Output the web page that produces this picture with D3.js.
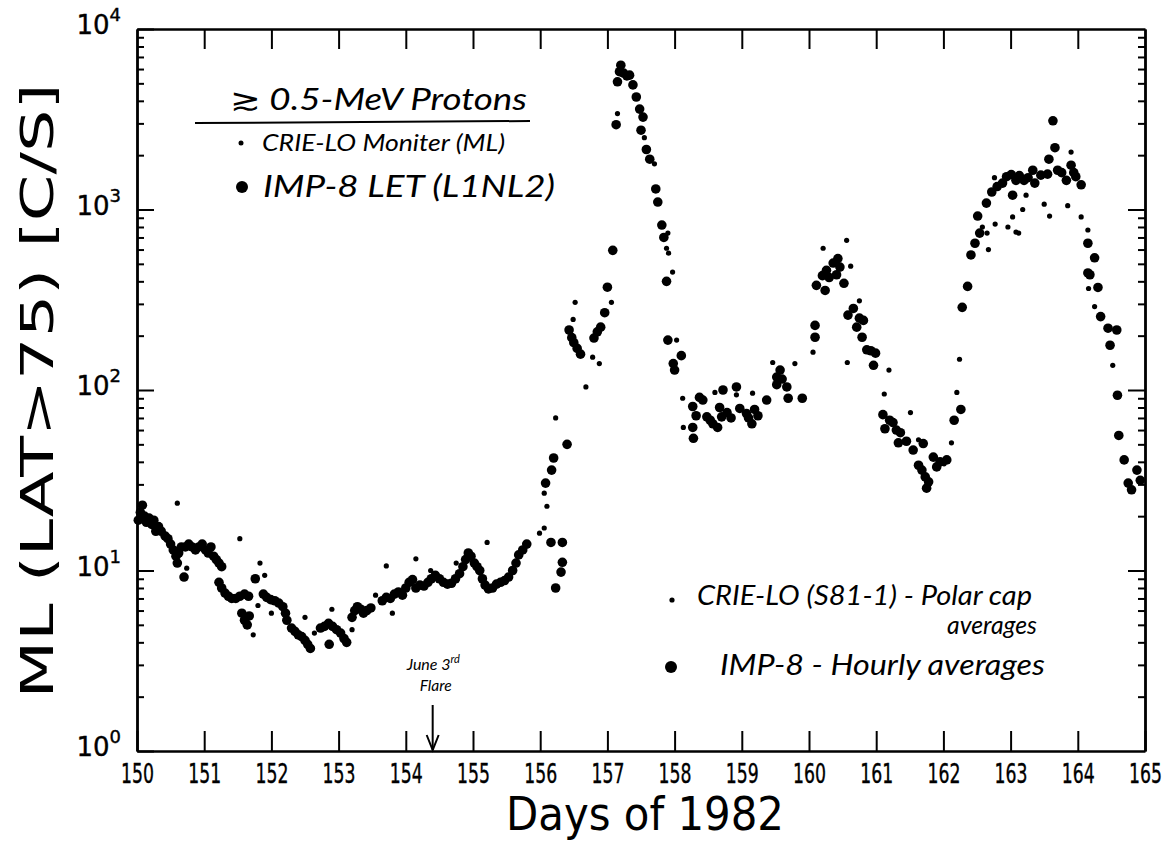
<!DOCTYPE html>
<html>
<head>
<meta charset="utf-8">
<script src="https://cdn.jsdelivr.net/npm/d3@7"></script>
<style>
  body { margin: 0; background: #fff; }
</style>
</head>
<body>
<div id="chart"></div>
<script>
var w = 1172;
var h = 841;

// axis ranges and ticks
var dayDomain = [150, 165];
var rateDomain = [1, 10000];
var dayTicks = d3.range(150, 166);
var decadeTicks = [1, 10, 100, 1000, 10000];
var flareDay = 154.4;

// IMP-8 LET hourly averages (big dots): [day of 1982, counts/s]
var imp8 = [
  [150.02,19],[150.05,21],[150.08,23],[150.11,20],[150.14,18.5],[150.18,19.5],[150.22,18],[150.25,19],[150.28,16.5],[150.32,17.5],[150.36,16.5],
  [150.42,15.5],[150.46,15],[150.5,14],[150.54,13],[150.58,12],[150.6,11],[150.62,12.5],[150.66,13.5],[150.7,9.2],[150.72,13.5],[150.77,14],
  [150.82,13.5],[150.87,13],[150.92,13.5],[150.97,14],[151.02,13],[151.06,12.5],[151.1,13.5],[151.14,12],[151.18,11.5],[151.22,11],[151.26,10.5],
  [151.22,8.6],[151.26,8],[151.31,7.5],[151.36,7.2],[151.41,7],[151.47,7],[151.53,7.2],[151.6,7.4],[151.66,7.2],
  [151.56,5.8],[151.6,5.3],[151.64,5],[151.67,5.6],[151.76,9],
  [151.88,7.4],[151.93,7.1],[151.99,6.9],[152.05,6.8],[152.11,6.6],[152.17,6.3],[152.21,5.8],[152.23,5.3],
  [152.3,4.8],[152.35,4.6],[152.4,4.4],[152.45,4.3],[152.5,4.1],[152.54,3.9],[152.58,3.7],
  [152.73,4.8],[152.79,4.9],[152.85,5.1],[152.86,3.9],[152.91,4.9],[152.97,4.7],[153.03,4.5],[153.08,4.2],[153.12,4],
  [153.2,5.5],[153.24,6],[153.28,6.3],[153.33,6.1],[153.37,5.8],[153.42,6],[153.48,6.2],
  [153.65,6.8],[153.71,7.1],[153.77,7],[153.83,7.4],[153.89,7.6],[153.95,7.3],[154.0,8],[154.05,8.6],[154.1,8.9],[154.15,8],
  [154.21,8.3],[154.27,8.2],[154.33,8.6],[154.38,9],
  [154.44,9.4],[154.5,9],[154.56,8.6],[154.62,8.4],[154.68,8.5],[154.74,9],[154.8,9.6],[154.85,10.5],[154.89,11.5],[154.93,12.5],
  [154.97,12],[155.02,11],[155.06,10.5],[155.1,10],[155.14,9],[155.18,8.3],[155.23,7.9],[155.29,8],[155.35,8.4],[155.41,8.6],
  [155.47,8.8],[155.53,9.2],[155.59,10],[155.64,11],[155.68,12.2],[155.74,13],[155.8,14],
  [156.16,14.3],[156.33,14.3],[156.33,11.1],[156.31,9.8],[156.23,8],
  [156.08,30.5],[156.17,36],[156.2,42],[156.4,50],
  [156.43,215],[156.47,195],[156.5,183],[156.55,170],[156.6,158],[156.8,194],[156.85,210],[156.9,223],[156.96,268],[157.0,371],[157.08,594],
  [157.13,2950],[157.15,5100],[157.18,5800],[157.2,6300],[157.24,5700],[157.29,5500],[157.33,5550],[157.38,4900],[157.43,4200],[157.48,3600],
  [157.5,2750],[157.53,3250],[157.58,2150],[157.63,1900],[157.72,1300],[157.75,1100],[157.81,820],[157.84,700],[157.88,400],[157.9,189],
  [157.98,140],[158.0,129],[158.1,155],
  [158.27,81],[158.32,72],[158.37,91],[158.42,88],[158.48,71],[158.53,68],[158.57,65],[158.27,62],[158.28,54],[158.64,62],[158.67,80],
  [158.7,71],[158.72,100],[158.78,75],[158.84,70],[158.92,104],[158.97,79],[159.07,74],[159.1,70],[159.15,65],[159.19,78],[159.24,72],
  [159.37,88],[159.52,118],[159.52,107],[159.57,129],[159.6,115],[159.67,104],[159.69,90],[159.9,90],
  [160.09,196],[160.09,228],[160.11,380],[160.2,430],[160.24,356],[160.26,460],[160.3,420],[160.36,505],[160.41,435],[160.43,535],
  [160.46,480],[160.52,390],
  [160.58,260],[160.66,283],[160.71,223],[160.75,250],[160.79,196],[160.81,243],[160.86,167],[160.92,165],[160.96,137],[160.99,160],
  [161.1,73],[161.13,61],[161.2,68],[161.25,66],[161.3,60],[161.33,51],[161.36,58],[161.45,52],[161.55,46.5],[161.63,38.3],[161.68,36],
  [161.7,50.5],[161.73,33],[161.75,28.6],[161.78,31],[161.85,42.5],[161.9,37.5],[161.95,40],[162.05,41],
  [162.16,68],[162.26,78],[162.28,287],[162.36,375],[162.41,560],[162.47,650],[162.51,920],[162.54,740],[162.64,1085],[162.72,1250],
  [162.8,1340],[162.88,1400],[162.94,1520],[163.01,1560],[163.03,1200],[163.08,1450],[163.13,1540],[163.2,1450],[163.26,1500],
  [163.33,1650],[163.36,1400],[163.45,1550],[163.55,1570],[163.57,1900],[163.63,3100],[163.66,2200],[163.7,1650],[163.76,1600],
  [163.83,1450],[163.9,1760],[163.94,1600],[163.97,1520],[164.05,1370],
  [164.15,650],[164.15,445],[164.18,435],[164.25,540],[164.3,370],[164.34,255],[164.45,220],[164.48,177],[164.58,215],[164.59,93.5],
  [164.61,56],[164.69,41],[164.75,30.5],[164.8,28],[164.88,36],[164.93,31.6]
];

// CRIE-LO (S81-1) polar cap averages (small dots)
var crieLo = [
  [150.6,23.6],[150.74,10.3],[151.53,15],[151.73,4.4],[151.8,6.4],[151.83,11],[151.9,9.4],[152.0,5.8],[152.5,5.5],[152.64,4.5],
  [152.9,6.1],[153.2,4.7],[153.55,7.3],[153.71,10.6],[153.8,5.8],[154.15,11.6],[154.37,10],[154.75,11],[155.21,14.3],[155.99,16.1],
  [156.06,17.2],[156.06,26.8],[156.1,22.7],[156.23,70],[156.49,246],[156.52,306],[156.68,104],[156.78,152],[156.88,140],[157.06,306],
  [157.15,3400],[157.55,2500],[157.7,1790],[157.88,610],[157.9,740],[157.91,573],[157.97,450],[158.03,189],[158.12,90],[158.13,62],
  [158.6,97],[158.92,94],[159.16,96],[159.46,142],[159.79,140],[160.06,162],[160.21,610],[160.56,675],[160.57,142],[160.62,485],
  [160.75,312],[161.12,95],[161.19,129],[161.51,75],[161.63,53],[162.01,39],[162.12,51],[162.2,97],[162.24,148],[162.58,800],
  [162.65,740],[162.67,600],[162.76,1500],[162.77,830],[162.96,800],[163.03,910],[163.08,750],[163.12,740],[163.18,1000],[163.23,1200],
  [163.5,1070],[163.58,920],[163.85,1050],[163.9,2080],[164.05,910],[164.15,770],[164.16,365],[164.25,290],[164.52,137]
];

// plot frame (window.top is reserved, so prefixed names)
var plotLeft = 137, plotRight = 1145, plotTop = 29, plotBottom = 751;
var axisFont = "DejaVu Sans, sans-serif";
var handFont = "Lato, 'DejaVu Sans', sans-serif";

var xScale = d3.scaleLinear().domain(dayDomain).range([plotLeft, plotRight]);
var yScale = d3.scaleLog().domain(rateDomain).range([plotBottom, plotTop]);

// minor log ticks 2..9 of each decade
var minorTicks = [];
decadeTicks.slice(0, -1).forEach(function(d) {
  for (var k = 2; k <= 9; k++) minorTicks.push(d * k);
});

var svg = d3.select("#chart").append("svg")
  .attr("width", w)
  .attr("height", h)
  .style("background", "#fff");

function styleAxis(g) {
  g.select(".domain").attr("stroke-width", 2.4);
  g.selectAll(".tick line").attr("stroke-width", 2);
}

// bottom axis with labels
var xAxis = d3.axisBottom(xScale)
  .tickValues(dayTicks)
  .tickSizeInner(-20)
  .tickSizeOuter(0)
  .tickPadding(14)
  .tickFormat(d3.format("d"));
svg.append("g")
  .attr("transform", "translate(0," + plotBottom + ")")
  .call(xAxis)
  .call(styleAxis)
  .selectAll("text")
  .attr("font-family", axisFont)
  .attr("font-size", "26px")
  .attr("fill", "#000")
  .attr("stroke", "#000")
  .attr("stroke-width", 0.4)
  .attr("textLength", 33)
  .attr("lengthAdjust", "spacingAndGlyphs");

// top axis, ticks only
svg.append("g")
  .attr("transform", "translate(0," + plotTop + ")")
  .call(d3.axisTop(xScale).tickValues(dayTicks.slice(1, -1)).tickSizeInner(-20).tickSizeOuter(0).tickFormat(""))
  .call(styleAxis);

// left axis: decades with 10^n labels
var yAxis = d3.axisLeft(yScale)
  .tickValues(decadeTicks)
  .tickSizeInner(-17)
  .tickSizeOuter(0)
  .tickPadding(16)
  .tickFormat("");
var gy = svg.append("g")
  .attr("transform", "translate(" + plotLeft + ",0)")
  .call(yAxis)
  .call(styleAxis);
gy.selectAll(".tick text")
  .attr("font-family", axisFont)
  .attr("fill", "#000")
  .attr("stroke", "#000")
  .attr("stroke-width", 0.4)
  .attr("dy", "0.45em")
  .each(function(d) {
    var t = d3.select(this);
    t.append("tspan").attr("font-size", "26px").text("10");
    t.append("tspan").attr("font-size", "18px").attr("dy", "-0.7em").text(Math.round(Math.log10(d)));
  });
svg.append("g")
  .attr("transform", "translate(" + plotLeft + ",0)")
  .call(d3.axisLeft(yScale).tickValues(minorTicks).tickSizeInner(-7).tickSizeOuter(0).tickFormat(""))
  .call(styleAxis);

// right axis, ticks only
svg.append("g")
  .attr("transform", "translate(" + plotRight + ",0)")
  .call(d3.axisRight(yScale).tickValues(decadeTicks.slice(1, -1)).tickSizeInner(-17).tickSizeOuter(0).tickFormat(""))
  .call(styleAxis);
svg.append("g")
  .attr("transform", "translate(" + plotRight + ",0)")
  .call(d3.axisRight(yScale).tickValues(minorTicks).tickSizeInner(-7).tickSizeOuter(0).tickFormat(""))
  .call(styleAxis);

// axis titles
svg.append("text")
  .text("Days of 1982")
  .attr("x", 645)
  .attr("y", 830)
  .attr("text-anchor", "middle")
  .attr("font-family", axisFont)
  .attr("font-size", "46px")
  .attr("textLength", 278)
  .attr("lengthAdjust", "spacingAndGlyphs");
svg.append("text")
  .text("ML (LAT>75) [C/S]")
  .attr("transform", "translate(53,391) rotate(-90)")
  .attr("text-anchor", "middle")
  .attr("font-family", axisFont)
  .attr("font-size", "44px")
  .attr("textLength", 615)
  .attr("lengthAdjust", "spacingAndGlyphs");

// data
svg.append("g").selectAll("circle")
  .data(imp8)
  .enter()
  .append("circle")
  .attr("cx", function(d) { return xScale(d[0]); })
  .attr("cy", function(d) { return yScale(d[1]); })
  .attr("r", 4.8)
  .attr("fill", "#000");
svg.append("g").selectAll("circle")
  .data(crieLo)
  .enter()
  .append("circle")
  .attr("cx", function(d) { return xScale(d[0]); })
  .attr("cy", function(d) { return yScale(d[1]); })
  .attr("r", 2.6)
  .attr("fill", "#000");

// hand-lettered legend text
function hand(txt, x, y, size, len) {
  return svg.append("text")
    .text(txt)
    .attr("x", x)
    .attr("y", y)
    .attr("font-family", handFont)
    .attr("font-style", "italic")
    .attr("font-size", size + "px")
    .attr("textLength", len)
    .attr("lengthAdjust", "spacingAndGlyphs");
}
hand("\u2273 0.5-MeV Protons", 230, 110, 30, 297);
svg.append("line")
  .attr("x1", 195).attr("y1", 123)
  .attr("x2", 530).attr("y2", 121)
  .attr("stroke", "#000")
  .attr("stroke-width", 2);
svg.append("circle").attr("cx", 241).attr("cy", 143).attr("r", 2.5);
hand("CRIE-LO Moniter (ML)", 262, 151, 23, 243);
svg.append("circle").attr("cx", 242).attr("cy", 187).attr("r", 6);
hand("IMP-8 LET (L1NL2)", 263, 197, 30, 292);

// lower legend
svg.append("circle").attr("cx", 672).attr("cy", 600).attr("r", 2.6);
hand("CRIE-LO (S81-1) - Polar cap", 697, 605, 27, 335);
hand("averages", 947, 634, 25, 90);
svg.append("circle").attr("cx", 671).attr("cy", 667).attr("r", 6);
hand("IMP-8 - Hourly averages", 720, 675, 28, 325);

// June 3rd flare marker
var fx = xScale(flareDay);
svg.append("text")
  .attr("x", fx - 26)
  .attr("y", 670)
  .attr("font-family", handFont)
  .attr("font-style", "italic")
  .attr("font-size", "16px")
  .call(function(t) {
    t.append("tspan").text("June 3");
    t.append("tspan").attr("dy", "-0.6em").attr("font-size", "11px").text("rd");
  });
hand("Flare", fx - 13, 691, 16, 32);
svg.append("line")
  .attr("x1", fx).attr("y1", 705)
  .attr("x2", fx).attr("y2", plotBottom - 1)
  .attr("stroke", "#000")
  .attr("stroke-width", 2);
svg.append("path")
  .attr("d", "M" + (fx - 6) + "," + (plotBottom - 16) + "L" + fx + "," + (plotBottom - 1) + "L" + (fx + 6) + "," + (plotBottom - 16))
  .attr("fill", "none")
  .attr("stroke", "#000")
  .attr("stroke-width", 2);
</script>
</body>
</html>
